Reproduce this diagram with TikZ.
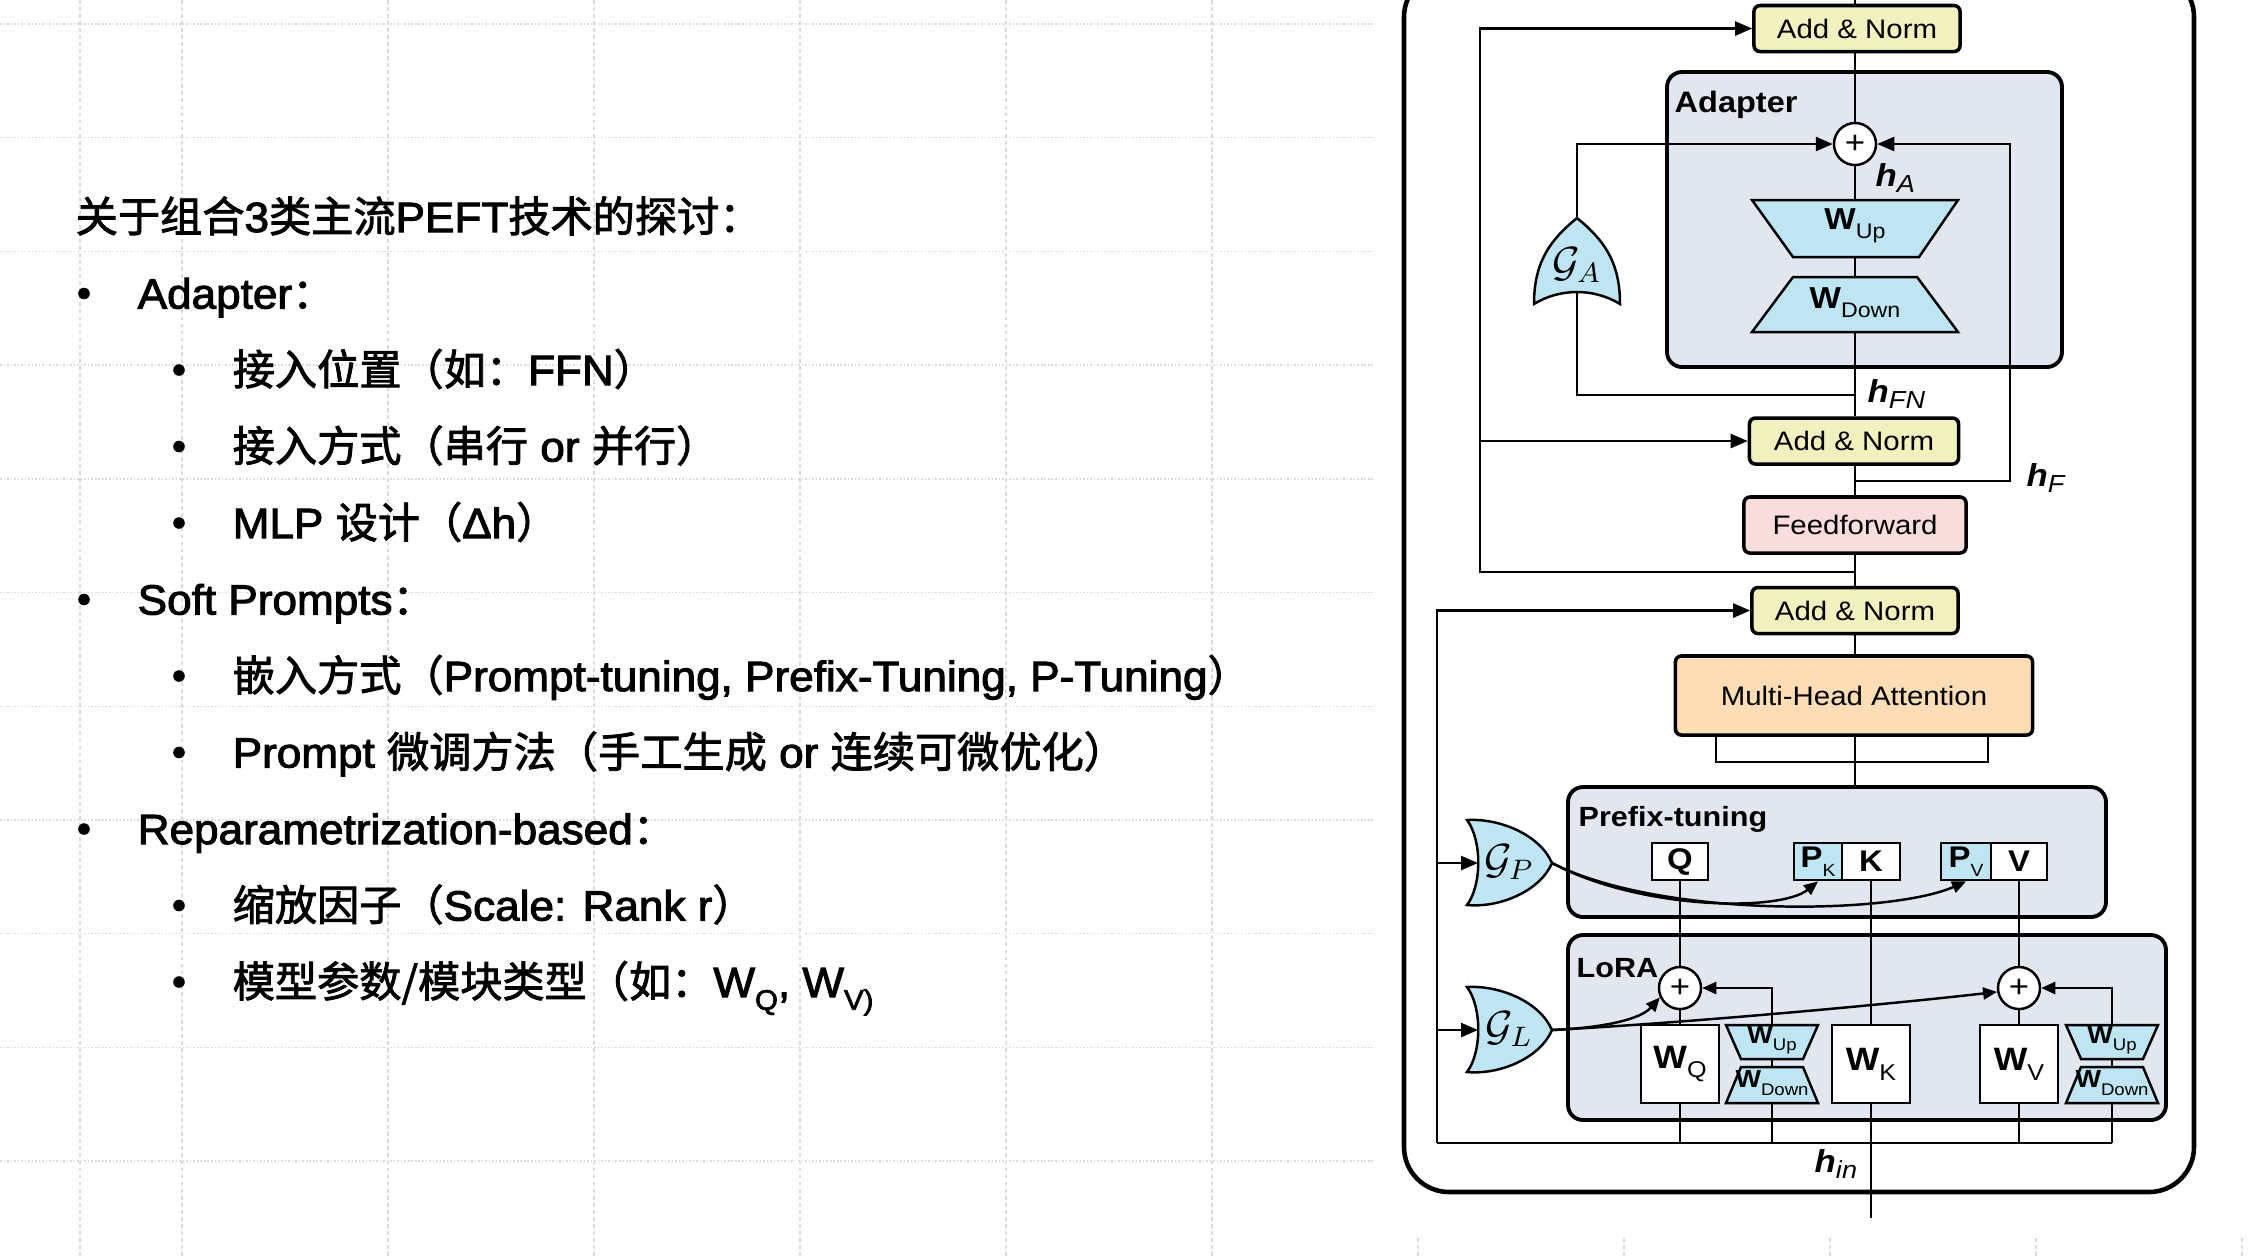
\documentclass[tikz,border=0pt]{standalone}
\usepackage{fontspec}
\setmainfont{Liberation Sans}
\newfontfamily\cjk[FakeBold=2]{Noto Sans CJK SC}
\newfontfamily\lt[FakeBold=2.4,FakeStretch=1.045]{Liberation Sans}
\newfontfamily\dg[FakeStretch=1.1]{Liberation Sans}
\usetikzlibrary{arrows.meta}
\newcommand\lsub[2]{\raisebox{-0.3em}{\fontsize{#1}{#1}\selectfont #2}}
\newcommand\hsub[2]{\raisebox{-0.22em}{\fontsize{#1}{#1}\selectfont #2}}
\definecolor{anC}{HTML}{F1F1C0}
\definecolor{ffC}{HTML}{F9DDDD}
\definecolor{mhC}{HTML}{FDDDB5}
\definecolor{ctC}{HTML}{E2E6EE}
\definecolor{blC}{HTML}{BEE5F1}
\definecolor{grC}{HTML}{DADADA}
\begin{document}
\begin{tikzpicture}[x=0.01cm, y=-0.01cm,
  conn/.style={line width=0.7pt},
  arr/.style={conn, -{Triangle[length=0.17cm,width=0.14cm]}},
  sarr/.style={conn, -{Triangle[length=0.14cm,width=0.12cm]}},
  rbox/.style={draw, line width=1pt, rounded corners=0.06cm, inner sep=0pt, font=\dg\fontsize{7.6}{9}\selectfont},
  addnorm/.style={rbox, fill=anC, minimum width=2.06cm, minimum height=0.46cm},
  cont/.style={draw, line width=1.1pt, rounded corners=0.15cm, fill=ctC},
  plusn/.style={circle, draw, fill=white, line width=0.7pt, minimum size=0.42cm, inner sep=0pt, font=\dg\fontsize{9}{9}\selectfont},
  sq/.style={draw, line width=0.8pt, inner sep=0pt, minimum height=0.37cm, font=\dg\fontsize{8.5}{9}\selectfont},
  wbox/.style={draw, fill=white, line width=0.8pt, inner sep=0pt, minimum width=0.78cm, minimum height=0.78cm, font=\dg\fontsize{9.2}{9}\selectfont},
  trap/.style={draw, fill=blC, line width=0.7pt},
  gate/.style={draw, fill=blC, line width=0.7pt},
  ttl/.style={inner sep=0pt, anchor=base west, font=\dg\bfseries\fontsize{7.9}{9}\selectfont},
  hl/.style={inner sep=0pt, anchor=base west, font=\dg\fontsize{9}{9}\selectfont},
  ltxt/.style={inner sep=0pt, anchor=base west, font=\lt\fontsize{12}{14}\selectfont},
  gridv/.style={draw=grC, line width=0.4pt, dash pattern=on 1.1pt off 0.9pt},
  gridh/.style={draw=grC, line width=0.4pt, dash pattern=on 0.45pt off 0.55pt}
]
\useasboundingbox (0,0) rectangle (2254,1256);
% ---------- background grid ----------
\foreach \gx in {80,182,388,594,800,1006,1212,1418,1624,1830,2036,2242}
  \draw[gridv] (\gx,0) -- (\gx,1256);
\foreach \k in {0,...,10}
  \draw[gridh] (0,{24+113.7*\k}) -- (2254,{24+113.7*\k});
\fill[white] (1375,0) rectangle (2254,1236);

% ---------- left text ----------
\node[ltxt] (t0) at (75,232) {{\cjk 关于组合}3{\cjk 类主流}PEFT{\cjk 技术的探讨：}};
\node[ltxt] (t1) at (137,308.5) {Adapter{\cjk ：}};
\node[ltxt] (t2) at (232,385) {{\cjk 接入位置（如：}FFN{\cjk ）}};
\node[ltxt] (t3) at (232,461.5) {{\cjk 接入方式（串行} or {\cjk 并行）}};
\node[ltxt] (t4) at (232,538) {MLP {\cjk 设计（}Δh{\cjk ）}};
\node[ltxt] (t5) at (137,614.5) {Soft Prompts{\cjk ：}};
\node[ltxt] (t6) at (232,691) {{\cjk 嵌入方式（}Prompt-tuning, Prefix-Tuning, P-Tuning{\cjk ）}};
\node[ltxt] (t7) at (232,767.5) {Prompt {\cjk 微调方法（手工生成} or {\cjk 连续可微优化）}};
\node[ltxt] (t8) at (137,844) {Reparametrization-based{\cjk ：}};
\node[ltxt] (t9) at (232,920.5) {{\cjk 缩放因子（}Scale: Rank r{\cjk ）}};
\node[ltxt] (t10) at (232,997) {{\cjk 模型参数/模块类型（如：}W\lsub{8}{Q}, W\lsub{8}{V)}};
\foreach \by in {293.5,599.5,829}
  \fill (84,\by) circle (5.8);
\foreach \by in {370,446.5,523,676,752.5,905.5,982}
  \fill (179,\by) circle (5.8);

% ---------- diagram ----------
\draw[line width=1.3pt, rounded corners=0.45cm] (1404,-28) rectangle (2194,1192);
\draw[cont] (1667,72) rectangle (2062,367);
\draw[cont] (1568,787) rectangle (2106,917);
\draw[cont] (1568,935) rectangle (2166,1120);
\node[ttl, font=\dg\bfseries\fontsize{8.4}{9}\selectfont] (adT) at (1674,112) {Adapter};
\node[ttl] (pfT) at (1578,826) {Prefix-tuning};
\node[ttl] (loT) at (1576,977) {LoRA};

% main column boxes
\node[addnorm] (an3) at (1857,28.5) {Add \& Norm};
\node[addnorm, minimum width=2.09cm] (an2) at (1854,441) {Add \& Norm};
\node[rbox, fill=ffC, minimum width=2.22cm, minimum height=0.56cm] (ffn) at (1855,525) {Feedforward};
\node[addnorm] (an1) at (1855,610.5) {Add \& Norm};
\node[rbox, fill=mhC, minimum width=3.57cm, minimum height=0.79cm] (mha) at (1854,695.5) {Multi-Head Attention};

% adapter internals
\node[plusn] (plA) at (1855,144) {+};
\draw[trap] (1752,200) -- (1958,200) -- (1919,257) -- (1793,257) -- cycle;
\draw[trap] (1793,277) -- (1917,277) -- (1958,332) -- (1752,332) -- cycle;
\node[font=\dg\fontsize{8.6}{9}\selectfont] (wupA) at (1855,226) {{\bfseries W}\lsub{6}{Up}};
\node[font=\dg\fontsize{8.6}{9}\selectfont] (wdnA) at (1855,303) {{\bfseries W}\lsub{6}{Down}};
\coordinate (wupAt) at (1855,200);
\coordinate (wupAb) at (1855,257);
\coordinate (wdnAt) at (1855,277);
\coordinate (wdnAb) at (1855,332);

% gate A
\draw[gate] (1577,218) .. controls (1550,240) and (1534,262) .. (1534,304)
  .. controls (1560,288) and (1594,288) .. (1620,304)
  .. controls (1620,262) and (1604,240) .. (1577,218) -- cycle;
\node[font=\fontsize{12}{12}\selectfont] (gA) at (1577,265) {$\mathcal{G}_A$};
\coordinate (gAt) at (1577,218);
\coordinate (gAb) at (1577,292);

% prefix internals
\node[sq, fill=white, minimum width=0.56cm] (Q) at (1680,861.5) {\bfseries Q};
\node[sq, fill=blC, minimum width=0.48cm] (PK) at (1818,861.5) {{\bfseries P}\lsub{5}{K}};
\node[sq, fill=white, minimum width=0.58cm] (K) at (1871,861.5) {\bfseries K};
\node[sq, fill=blC, minimum width=0.50cm] (PV) at (1966,861.5) {{\bfseries P}\lsub{5}{V}};
\node[sq, fill=white, minimum width=0.56cm] (V) at (2019,861.5) {\bfseries V};

% gate P
\draw[gate] (1467,820) .. controls (1500,818) and (1540,835) .. (1552,863)
  .. controls (1540,891) and (1500,908) .. (1467,905)
  .. controls (1482,885) and (1482,840) .. (1467,820) -- cycle;
\node[font=\fontsize{12}{12}\selectfont] (gP) at (1509,862) {$\mathcal{G}_P$};
\coordinate (gPin) at (1478,863);
\coordinate (gPtip) at (1552,863);

% LoRA internals
\node[plusn] (plL) at (1680,988) {+};
\node[plusn] (plR) at (2019,988) {+};
\node[wbox] (WQ) at (1680,1064) {{\bfseries W}\lsub{6.5}{Q}};
\node[wbox] (WK) at (1871,1064) {{\bfseries W}\lsub{6.5}{K}};
\node[wbox] (WV) at (2019,1064) {{\bfseries W}\lsub{6.5}{V}};
\draw[trap] (1726,1025) -- (1818,1025) -- (1803,1059) -- (1741,1059) -- cycle;
\draw[trap] (1741,1067) -- (1803,1067) -- (1818,1103) -- (1726,1103) -- cycle;
\draw[trap] (2066,1025) -- (2158,1025) -- (2143,1059) -- (2081,1059) -- cycle;
\draw[trap] (2081,1067) -- (2143,1067) -- (2158,1103) -- (2066,1103) -- cycle;
\node[font=\dg\fontsize{7}{7}\selectfont] (wupL) at (1772,1040) {{\bfseries W}\lsub{4.8}{Up}};
\node[font=\dg\fontsize{7}{7}\selectfont] (wdnL) at (1772,1083) {{\bfseries W}\lsub{4.8}{Down}};
\node[font=\dg\fontsize{7}{7}\selectfont] (wupR) at (2112,1040) {{\bfseries W}\lsub{4.8}{Up}};
\node[font=\dg\fontsize{7}{7}\selectfont] (wdnR) at (2112,1083) {{\bfseries W}\lsub{4.8}{Down}};
\coordinate (wupLt) at (1772,1025);
\coordinate (wupLb) at (1772,1059);
\coordinate (wdnLt) at (1772,1067);
\coordinate (wdnLb) at (1772,1103);
\coordinate (wupRt) at (2112,1025);
\coordinate (wupRb) at (2112,1059);
\coordinate (wdnRt) at (2112,1067);
\coordinate (wdnRb) at (2112,1103);

% gate L
\draw[gate] (1467,987) .. controls (1500,985) and (1540,1002) .. (1552,1030)
  .. controls (1540,1058) and (1500,1075) .. (1467,1072)
  .. controls (1482,1052) and (1482,1007) .. (1467,987) -- cycle;
\node[font=\fontsize{12}{12}\selectfont] (gL) at (1509,1029) {$\mathcal{G}_L$};
\coordinate (gLin) at (1478,1030);
\coordinate (gLtip) at (1552,1030);

% ---------- connectors ----------
\coordinate (topEnd) at (1855,0);
\draw[conn] (topEnd) -- (an3.north -| topEnd);
\draw[conn] (an3.south -| plA) -- (plA.north);
\draw[conn] (plA.south) -- (wupAt);
\draw[conn] (wupAb) -- (wdnAt);
\draw[conn] (wdnAb) -- (an2.north -| wdnAb);
\draw[conn] (an2.south -| wdnAb) -- (ffn.north);
\draw[conn] (ffn.south) -- (an1.north);
\draw[conn] (an1.south) -- (mha.north -| an1.south);
\coordinate (pfTop) at (1855,787);
\draw[conn] (mha.south -| pfTop) -- (pfTop);
\coordinate (brL) at (1716,735);
\coordinate (brR) at (1988,735);
\draw[conn] (brL) -- (1716,762) -- (1988,762) -- (brR);

% skip connections around adapter/ffn
\coordinate (jL) at (1855,572);
\coordinate (L1) at (1480,572);
\draw[arr] (jL) -- (L1) |- (an3.west);
\draw[arr] (L1 |- an2.west) -- (an2.west);
\coordinate (jR) at (1855,481);
\coordinate (R1) at (2010,481);
\draw[arr] (jR) -- (R1) |- (plA.east);
\coordinate (jG) at (1855,395);
\draw[conn] (jG) -| (gAb);
\draw[arr] (gAt) |- (plA.west);

% left input line
\coordinate (bl) at (1437,1143);
\coordinate (br) at (2112,1143);
\draw[arr] (bl) |- (an1.west);
\draw[arr] (bl |- gPin) -- (gPin);
\draw[arr] (bl |- gLin) -- (gLin);
\draw[conn] (bl) -- (br);
\draw[conn] (WQ.south) -- (WQ.south |- bl);
\draw[conn] (wdnLb) -- (wdnLb |- bl);
\draw[conn] (WV.south) -- (WV.south |- bl);
\draw[conn] (wdnRb) -- (br);

% h_in / K column
\coordinate (hinEnd) at (1871,1218);
\draw[conn] (hinEnd) -- (WK.south);
\draw[conn] (WK.north) -- (K.south);
% Q column
\draw[conn] (Q.south) -- (plL.north);
\draw[conn] (plL.south) -- (WQ.north);
\draw[sarr] (wupLt) |- (plL.east);
\draw[conn] (wupLb) -- (wdnLt);
% V column
\draw[conn] (V.south) -- (plR.north);
\draw[conn] (plR.south) -- (WV.north);
\draw[sarr] (wupRt) |- (plR.east);
\draw[conn] (wupRb) -- (wdnRt);

% gate curves
\draw[sarr] (gPtip) .. controls (1640,910) and (1780,912) .. (PK.south);
\draw[sarr] (gPtip) .. controls (1660,918) and (1890,915) .. (PV.south);
\draw[sarr] (gLtip) .. controls (1600,1028) and (1640,1020) .. (plL.205);
\draw[sarr] (gLtip) .. controls (1700,1022) and (1900,1003) .. (plR.190);

% h labels
\node[hl] (hA) at (1875,186) {{\bfseries\itshape h}\hsub{7}{\itshape A}};
\node[hl] (hFN) at (1867,402) {{\bfseries\itshape h}\hsub{7}{\itshape FN}};
\node[hl] (hF) at (2026,486) {{\bfseries\itshape h}\hsub{7}{\itshape F}};
\node[hl] (hin) at (1814,1172) {{\bfseries\itshape h}\hsub{7}{\itshape in}};
\end{tikzpicture}
\end{document}
